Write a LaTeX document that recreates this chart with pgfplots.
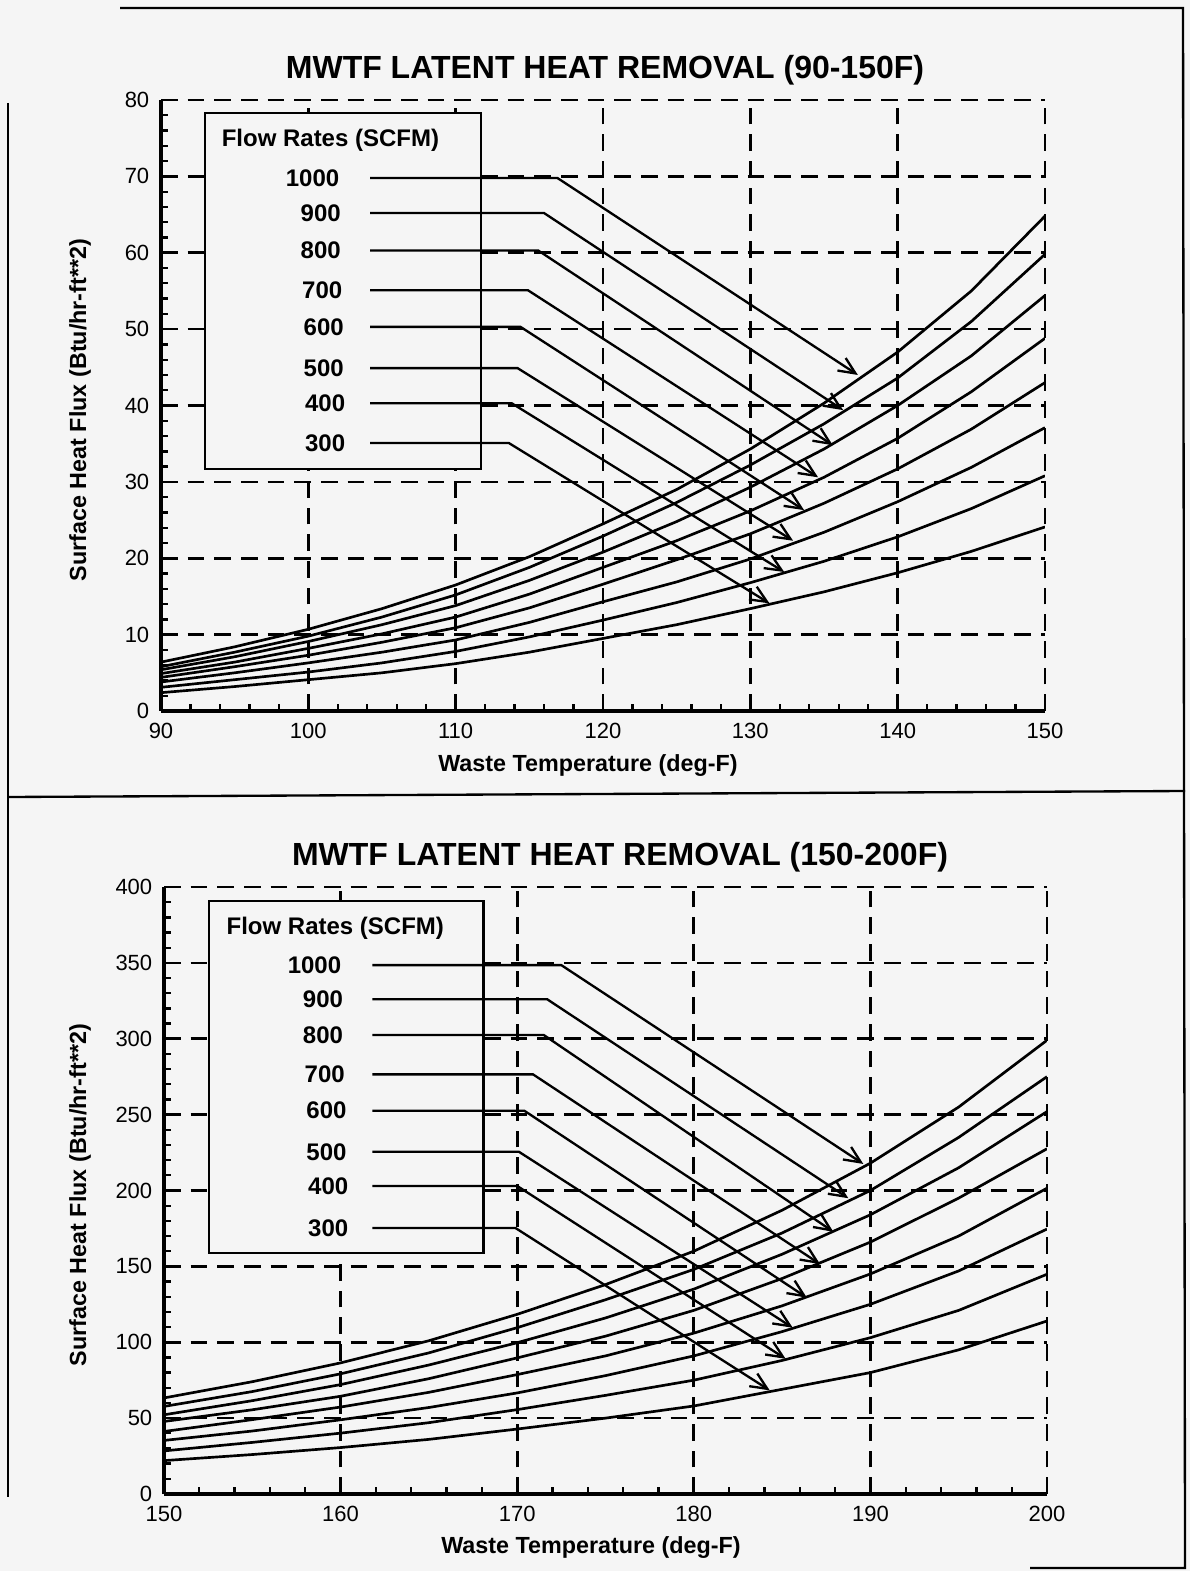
\documentclass[border=0pt]{standalone}
\usepackage{pgfplots}
\pgfplotsset{compat=1.18}
\usepackage{fontspec}
\setmainfont{Liberation Sans}
\usetikzlibrary{arrows.meta}
\definecolor{bg}{RGB}{245,245,245}
\newcommand{\tickfont}{\fontsize{6.6}{7.5}\selectfont}
\newcommand{\legfont}{\bfseries\fontsize{7.2}{8}\selectfont}
\newcommand{\labfont}{\bfseries\fontsize{7}{8}\selectfont}
\newcommand{\titfont}{\bfseries\fontsize{9.6}{11}\selectfont}
\pgfplotsset{
  chartstyle/.style={
    scale only axis,
    axis x line*=bottom, axis y line*=left,
    axis line style={line width=1pt, -},
    tick align=inside,
    major tick length=3pt, minor tick length=2pt,
    every tick/.style={line width=0.7pt, black},
    minor x tick num=4, minor y tick num=4,
    grid=major,
    major grid style={line width=0.8pt, black, dash pattern=on 5pt off 3pt},
    tick label style={font=\tickfont},
    /pgf/number format/assume math mode=true,
  },
  curve/.style={line width=0.8pt, black, no marks},
  arr/.style={line width=0.7pt, black, no marks, -{Straight Barb[length=5pt,width=4.5pt]}},
}
\begin{document}
\begin{tikzpicture}
\begin{scope}[x=0.3pt,y=-0.3pt]
  \fill[bg] (0,0) rectangle (1190,1571);
  \draw[line width=0.7pt] (120,8) -- (1183,8) -- (1185,1568) -- (1030,1568);
  \draw[line width=0.7pt] (8,103) -- (8,1497);
  \draw[line width=0.7pt] (8,797) -- (1185,791);
  \node[font=\titfont] at (605,70) {MWTF LATENT HEAT REMOVAL (90-150F)};
  \node[font=\labfont] at (588,766) {Waste Temperature (deg-F)};
  \node[font=\labfont, rotate=90] at (80,410) {Surface Heat Flux (Btu/hr-ft**2)};
  \node[font=\titfont] at (620,857) {MWTF LATENT HEAT REMOVAL (150-200F)};
  \node[font=\labfont] at (591,1548) {Waste Temperature (deg-F)};
  \node[font=\labfont, rotate=90] at (80,1195) {Surface Heat Flux (Btu/hr-ft**2)};
\end{scope}

% ---------------- top chart ----------------
\begin{axis}[chartstyle,
  at={(48.3pt,-213.3pt)}, anchor=south west,
  width=265.2pt, height=183.3pt,
  xmin=90, xmax=150, ymin=0, ymax=80,
  xtick={90,100,...,150}, ytick={0,10,...,80},
]
\draw[fill=bg, line width=0.7pt] (axis cs:93.0,78.3) rectangle (axis cs:111.7,31.7);
\node[font=\legfont] at (axis cs:101.5,74.7) {Flow Rates (SCFM)};
\node[font=\legfont, anchor=east] at (axis cs:102.9,69.8) {1000};
\node[font=\legfont, anchor=east] at (axis cs:103.0,65.2) {900};
\node[font=\legfont, anchor=east] at (axis cs:103.0,60.3) {800};
\node[font=\legfont, anchor=east] at (axis cs:103.1,55.1) {700};
\node[font=\legfont, anchor=east] at (axis cs:103.2,50.3) {600};
\node[font=\legfont, anchor=east] at (axis cs:103.2,44.9) {500};
\node[font=\legfont, anchor=east] at (axis cs:103.3,40.3) {400};
\node[font=\legfont, anchor=east] at (axis cs:103.3,35.1) {300};

\addplot[curve] coordinates {(90,6.4) (95,8.4) (100,10.7) (105,13.4) (110,16.5) (115,20.2) (120,24.5) (125,29.0) (130,34.3) (135,40.3) (140,47.0) (145,55.0) (150,64.8)};
\addplot[curve] coordinates {(90,5.8) (95,7.7) (100,9.8) (105,12.3) (110,15.2) (115,18.8) (120,22.9) (125,27.3) (130,32.2) (135,37.6) (140,43.6) (145,51.0) (150,59.8)};
\addplot[curve] coordinates {(90,5.4) (95,7.1) (100,9.1) (105,11.3) (110,13.8) (115,17.1) (120,20.8) (125,24.8) (130,29.3) (135,34.3) (140,40.0) (145,46.5) (150,54.4)};
\addplot[curve] coordinates {(90,4.9) (95,6.4) (100,8.2) (105,10.1) (110,12.3) (115,15.3) (120,18.8) (125,22.3) (130,26.2) (135,30.6) (140,35.7) (145,41.8) (150,48.8)};
\addplot[curve] coordinates {(90,4.4) (95,5.8) (100,7.3) (105,9.0) (110,10.9) (115,13.5) (120,16.6) (125,19.8) (130,23.2) (135,27.2) (140,31.7) (145,36.9) (150,43.0)};
\addplot[curve] coordinates {(90,3.8) (95,5.0) (100,6.3) (105,7.7) (110,9.3) (115,11.6) (120,14.3) (125,16.9) (130,19.9) (135,23.4) (140,27.4) (145,31.9) (150,37.1)};
\addplot[curve] coordinates {(90,3.1) (95,4.1) (100,5.1) (105,6.3) (110,7.8) (115,9.7) (120,11.9) (125,14.2) (130,16.8) (135,19.6) (140,22.8) (145,26.5) (150,30.8)};
\addplot[curve] coordinates {(90,2.4) (95,3.2) (100,4.1) (105,5.0) (110,6.2) (115,7.7) (120,9.5) (125,11.3) (130,13.4) (135,15.6) (140,18.1) (145,20.9) (150,24.1)};

\addplot[arr] coordinates {(104.2,69.8) (116.9,69.8) (137.3,44.0)};
\addplot[arr] coordinates {(104.2,65.2) (116.0,65.2) (136.3,39.4)};
\addplot[arr] coordinates {(104.2,60.3) (115.6,60.3) (135.6,34.8)};
\addplot[arr] coordinates {(104.2,55.1) (114.9,55.1) (134.6,30.6)};
\addplot[arr] coordinates {(104.2,50.3) (114.4,50.3) (133.65,26.3)};
\addplot[arr] coordinates {(104.2,44.9) (114.2,44.9) (132.9,22.3)};
\addplot[arr] coordinates {(104.2,40.3) (113.8,40.3) (132.3,18.2)};
\addplot[arr] coordinates {(104.2,35.1) (113.6,35.1) (131.3,14.1)};
\end{axis}

% ---------------- bottom chart ----------------
\begin{axis}[chartstyle,
  at={(49.2pt,-448.2pt)}, anchor=south west,
  width=264.9pt, height=182.1pt,
  xmin=150, xmax=200, ymin=0, ymax=400,
  xtick={150,160,...,200}, ytick={0,50,...,400},
]
\draw[fill=bg, line width=0.7pt] (axis cs:152.55,390.9) rectangle (axis cs:168.1,158.7);
\node[font=\legfont] at (axis cs:159.7,373) {Flow Rates (SCFM)};
\node[font=\legfont, anchor=east] at (axis cs:160.7,348.5) {1000};
\node[font=\legfont, anchor=east] at (axis cs:160.8,326) {900};
\node[font=\legfont, anchor=east] at (axis cs:160.8,302.5) {800};
\node[font=\legfont, anchor=east] at (axis cs:160.9,276.5) {700};
\node[font=\legfont, anchor=east] at (axis cs:161.0,252.6) {600};
\node[font=\legfont, anchor=east] at (axis cs:161.0,225.5) {500};
\node[font=\legfont, anchor=east] at (axis cs:161.1,203) {400};
\node[font=\legfont, anchor=east] at (axis cs:161.1,175.3) {300};

\addplot[curve] coordinates {(150,63.3) (155,74) (160,86.4) (165,101) (170,118.4) (175,138) (180,160) (185,187) (190,218) (195,255) (200,299)};
\addplot[curve] coordinates {(150,57.7) (155,67.5) (160,79.2) (165,93) (170,109.6) (175,128) (180,148) (185,172) (190,200) (195,235) (200,275)};
\addplot[curve] coordinates {(150,52.2) (155,61.5) (160,72.1) (165,85) (170,99.7) (175,116) (180,135) (185,158) (190,184) (195,215) (200,252)};
\addplot[curve] coordinates {(150,47.8) (155,55.5) (160,64.4) (165,76) (170,89.7) (175,104) (180,121) (185,142) (190,166) (195,195) (200,227.5)};
\addplot[curve] coordinates {(150,41.2) (155,49) (160,57.3) (165,67) (170,78.7) (175,91) (180,106) (185,124) (190,145) (195,170) (200,201.5)};
\addplot[curve] coordinates {(150,35.3) (155,41.5) (160,48.9) (165,57) (170,66.6) (175,78) (180,91) (185,107) (190,125) (195,147) (200,174.6)};
\addplot[curve] coordinates {(150,28.4) (155,34) (160,40.1) (165,47) (170,55.6) (175,65) (180,75) (185,88) (190,103) (195,121) (200,144.8)};
\addplot[curve] coordinates {(150,22) (155,26) (160,30.6) (165,36) (170,42.8) (175,50) (180,58) (185,69) (190,80) (195,95) (200,114)};

\addplot[arr] coordinates {(161.8,348.5) (172.5,348.5) (189.6,217.5)};
\addplot[arr] coordinates {(161.8,326) (171.7,326) (188.75,194.9)};
\addplot[arr] coordinates {(161.8,302.5) (171.5,302.5) (187.9,172.8)};
\addplot[arr] coordinates {(161.8,276.5) (170.9,276.5) (187.15,151.5)};
\addplot[arr] coordinates {(161.8,252.6) (170.4,252.6) (186.4,129.4)};
\addplot[arr] coordinates {(161.8,225.5) (170.1,225.5) (185.6,109.6)};
\addplot[arr] coordinates {(161.8,203) (170.0,203) (185.2,89.1)};
\addplot[arr] coordinates {(161.8,175.3) (169.9,175.3) (184.3,68.3)};
\end{axis}
\end{tikzpicture}
\end{document}
